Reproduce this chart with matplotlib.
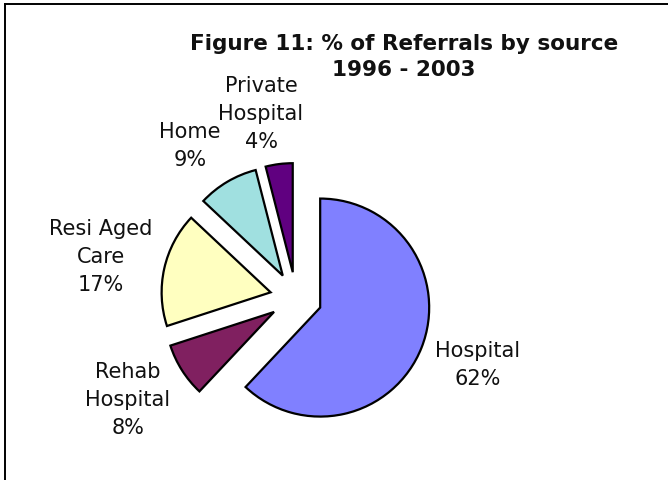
import matplotlib
matplotlib.use("Agg")
import matplotlib.pyplot as plt
from matplotlib.lines import Line2D

# Referral sources and their share of referrals (%)
categories = ["Hospital", "Rehab\nHospital", "Resi Aged\nCare", "Home", "Private\nHospital"]
shares = [62, 8, 17, 9, 4]
colors = ["#8080FF", "#802060", "#FFFFC0", "#A0E0E0", "#600080"]

title = "Figure 11: % of Referrals by source\n1996 - 2003"

W, H = 668, 481
fig = plt.figure(figsize=(W / 100, H / 100), dpi=100)
ax = fig.add_axes([0, 0, 1, 1])

# pie geometry in pixel units (y measured upward)
center = (296, H - 299)
radius = 109
explode = [26] * len(shares)

ax.pie(shares, explode=explode, colors=colors, startangle=90,
       counterclock=False, radius=radius, center=center, frame=True,
       wedgeprops=dict(edgecolor="black", linewidth=1.6))
ax.set_xlim(0, W)
ax.set_ylim(0, H)
ax.set_aspect("equal")
ax.axis("off")

# slice labels: name and percentage
label_pos = [(478, 365), (128, 400), (101, 257), (190, 146), (261, 114)]
for cat, val, (lx, ly) in zip(categories, shares, label_pos):
    ax.text(lx, H - ly, f"{cat}\n{val}%", ha="center", va="center",
            fontsize=15, color="#111111", linespacing=1.5)

ax.text(404, H - 57, title, ha="center", va="center", fontsize=15.5,
        fontweight="bold", color="#111111", linespacing=1.4)

# chart frame (left and top edges)
fig.add_artist(Line2D([4.5 / W, 4.5 / W], [0, 1 - 4.5 / H], transform=fig.transFigure,
                      color="black", linewidth=1.4))
fig.add_artist(Line2D([4.5 / W, 1], [1 - 4.5 / H, 1 - 4.5 / H], transform=fig.transFigure,
                      color="black", linewidth=1.4))

fig.savefig("out.png", dpi=100, facecolor="white")
